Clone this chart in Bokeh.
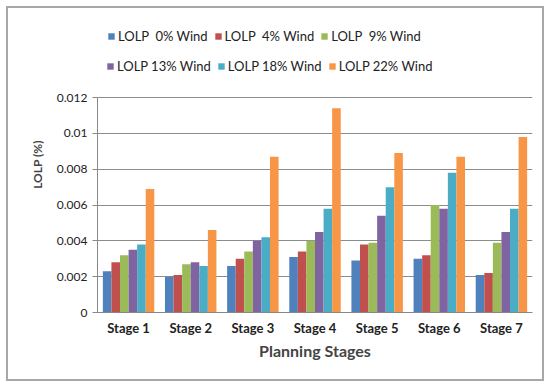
from bokeh.plotting import figure
from bokeh.models import ColumnDataSource, FactorRange, Legend, LegendItem, FixedTicker
from bokeh.transform import dodge
from bokeh.embed import file_html
from bokeh.resources import INLINE

stages = ["Stage 1", "Stage 2", "Stage 3", "Stage 4", "Stage 5", "Stage 6", "Stage 7"]
series_names = ["LOLP  0% Wind", "LOLP  4% Wind", "LOLP  9% Wind",
                "LOLP 13% Wind", "LOLP 18% Wind", "LOLP 22% Wind"]
wind0 = [0.0023, 0.0020, 0.0026, 0.0031, 0.0029, 0.0030, 0.0021]
wind4 = [0.0028, 0.0021, 0.0030, 0.0034, 0.0038, 0.0032, 0.0022]
wind9 = [0.0032, 0.0027, 0.0034, 0.0040, 0.0039, 0.0060, 0.0039]
wind13 = [0.0035, 0.0028, 0.0040, 0.0045, 0.0054, 0.0058, 0.0045]
wind18 = [0.0038, 0.0026, 0.0042, 0.0058, 0.0070, 0.0078, 0.0058]
wind22 = [0.0069, 0.0046, 0.0087, 0.0114, 0.0089, 0.0087, 0.0098]
y_ticks = [0, 0.002, 0.004, 0.006, 0.008, 0.01, 0.012]
y_tick_labels = ["0", "0.002", "0.004", "0.006", "0.008", "0.01", "0.012"]

colors = ["#4F81BD", "#C0504D", "#9BBB59", "#8064A2", "#4BACC6", "#F79646"]
keys = ["w0", "w4", "w9", "w13", "w18", "w22"]
src = ColumnDataSource(dict(stage=stages, w0=wind0, w4=wind4, w9=wind9,
                            w13=wind13, w18=wind18, w22=wind22))

FONT = "Lato"
Y_MAX = y_ticks[-1]
TOP_PAD = Y_MAX * 292.0 / 212.0  # room for the legend above the plotting area
p = figure(x_range=FactorRange(*stages), y_range=(0, TOP_PAD),
           width=538, height=375, output_backend="svg", toolbar_location=None,
           min_border_left=89, min_border_right=14, min_border_bottom=71, min_border_top=8)
p.margin = (6, 0, 0, 6)
p.styles = {"border": "2px solid #a8a8a8", "box-sizing": "border-box"}

bw = 0.138
items = []
for i, (k, c, n) in enumerate(zip(keys, colors, series_names)):
    r = p.vbar(x=dodge("stage", (i - 2.5) * bw, range=p.x_range), top=k, width=bw,
               source=src, fill_color=c, line_color=None)
    items.append(LegendItem(label=n, renderers=[r]))


def make_legend(its, loc):
    return Legend(items=its, orientation="horizontal", location=loc,
                  label_text_font=FONT, label_text_font_size="13px", label_text_color="#222",
                  glyph_width=8, glyph_height=8, label_standoff=3, spacing=6,
                  label_height=14, padding=0, margin=0, border_line_color=None,
                  background_fill_alpha=0)


p.add_layout(make_legend(items[:3], (10, 268)), "center")
p.add_layout(make_legend(items[3:], (9, 238)), "center")

p.yaxis.ticker = FixedTicker(ticks=y_ticks)
p.yaxis.bounds = (0, Y_MAX)
p.yaxis.major_label_overrides = {t: l for t, l in zip(y_ticks, y_tick_labels)}
p.yaxis.major_label_text_font = FONT
p.yaxis.major_label_text_font_size = "12px"
p.yaxis.major_label_text_color = "#222"
p.yaxis.axis_label = "LOLP (%)"
p.yaxis.axis_label_text_font = FONT
p.yaxis.axis_label_text_font_style = "bold"
p.yaxis.axis_label_text_font_size = "12px"
p.yaxis.axis_label_standoff = 9
p.yaxis.axis_line_color = "#888888"
p.yaxis.major_tick_line_color = "#888888"
p.yaxis.major_tick_in = 0
p.yaxis.major_tick_out = 5
p.yaxis.minor_tick_line_color = None

p.xaxis.axis_label = "Planning Stages"
p.xaxis.axis_label_text_font = FONT
p.xaxis.axis_label_text_font_style = "bold"
p.xaxis.axis_label_text_font_size = "16px"
p.xaxis.axis_label_standoff = 2
p.xaxis.major_label_text_font = FONT
p.xaxis.major_label_text_font_style = "bold"
p.xaxis.major_label_text_font_size = "13px"
p.xaxis.major_label_text_color = "#222"
p.xaxis.major_label_standoff = 1
p.xaxis.axis_line_color = "#888888"
p.xaxis.major_tick_line_color = None

p.xgrid.grid_line_color = None
p.ygrid.grid_line_color = "#8c8c8c"
p.ygrid.grid_line_width = 1
p.outline_line_color = None
p.x_range.range_padding = 0.0
p.x_range.factor_padding = 0.0

open("out.html", "w").write(file_html(p, INLINE))
